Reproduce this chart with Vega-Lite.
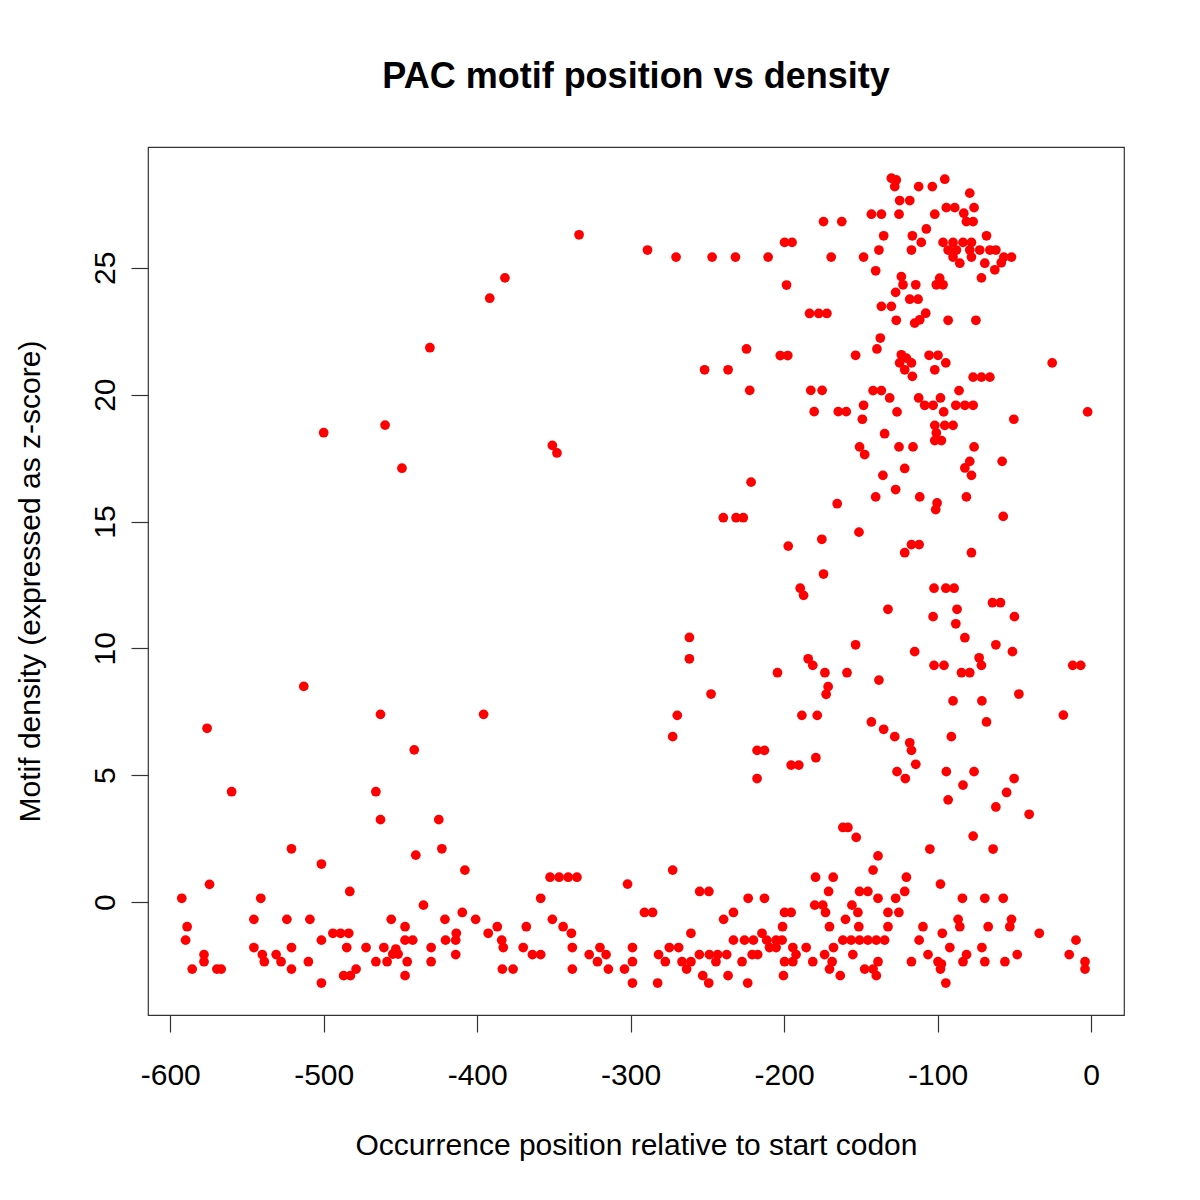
{
"$schema": "https://vega.github.io/schema/vega-lite/v6.json",
"width": 976, "height": 868,
"autosize": "none",
"padding": {"left": 148, "top": 147, "right": 76, "bottom": 185},
"background": "white",
"config": {"view": {"stroke": "#333", "strokeWidth": 1.2}, "font": "Liberation Sans"},
"title": {"text": "PAC motif position vs density", "font": "Liberation Sans", "fontSize": 36, "fontWeight": "bold", "color": "black", "anchor": "middle", "baseline": "alphabetic", "offset": 23},
"data": {"values": [
{"p":-333.6,"z":26.3},{"p":-381.9,"z":24.6},{"p":-391.8,"z":23.8},{"p":-430.8,"z":21.85},{"p":-500,"z":18.5},{"p":-460,"z":18.8},{"p":-449,"z":17.1},{"p":-351,"z":18.0},{"p":-348,"z":17.7},{"p":-513,"z":8.5},{"p":-576,"z":6.85},{"p":-463,"z":7.4},{"p":-395.8,"z":7.4},{"p":-441,"z":6.0},{"p":-560,"z":4.35},{"p":-466,"z":4.35},{"p":-463,"z":3.25},{"p":-425,"z":3.25},{"p":-521,"z":2.1},{"p":-423,"z":2.1},{"p":-440,"z":1.85},{"p":-501.5,"z":1.5},
{"p":-574.4,"z":0.7},{"p":-592.5,"z":0.15},{"p":-541,"z":0.15},{"p":-483,"z":0.42},{"p":-545.5,"z":-0.68},{"p":-524,"z":-0.68},{"p":-509,"z":-0.68},{"p":-456,"z":-0.68},{"p":-589,"z":-0.97},{"p":-590,"z":-1.5},{"p":-494,"z":-1.23},{"p":-489,"z":-1.23},{"p":-483.7,"z":-1.23},{"p":-501.5,"z":-1.5},{"p":-545.5,"z":-1.79},{"p":-521,"z":-1.79},{"p":-485,"z":-1.79},{"p":-472.4,"z":-1.79},{"p":-460.8,"z":-1.79},{"p":-453,"z":-1.85},{"p":-578,"z":-2.07},{"p":-540,"z":-2.07},{"p":-531,"z":-2.07},{"p":-578,"z":-2.35},{"p":-538.7,"z":-2.35},{"p":-527.8,"z":-2.35},{"p":-510,"z":-2.35},{"p":-466,"z":-2.35},{"p":-458.7,"z":-2.35},{"p":-585.7,"z":-2.64},{"p":-569.6,"z":-2.64},{"p":-566.8,"z":-2.64},{"p":-521,"z":-2.64},{"p":-478.9,"z":-2.64},{"p":-482.6,"z":-2.9},{"p":-487,"z":-2.9},{"p":-501.5,"z":-3.19},
{"p":-408,"z":1.26},{"p":-435,"z":-0.12},{"p":-352.5,"z":0.98},{"p":-346.6,"z":0.98},{"p":-340.7,"z":0.98},{"p":-335,"z":0.98},{"p":-302,"z":0.71},{"p":-358.6,"z":0.15},{"p":-421,"z":-0.68},{"p":-409.7,"z":-0.41},{"p":-401,"z":-0.68},{"p":-351,"z":-0.68},{"p":-447,"z":-0.97},{"p":-386.9,"z":-0.97},{"p":-368,"z":-0.97},{"p":-344,"z":-0.97},{"p":-392.8,"z":-1.23},{"p":-338.6,"z":-1.23},{"p":-413.6,"z":-1.23},{"p":-447,"z":-1.5},{"p":-442,"z":-1.5},{"p":-420.6,"z":-1.5},{"p":-414,"z":-1.5},{"p":-384,"z":-1.5},{"p":-455,"z":-2.05},{"p":-451.5,"z":-2.05},{"p":-430,"z":-1.79},{"p":-383,"z":-1.79},{"p":-370,"z":-1.79},{"p":-338,"z":-1.79},{"p":-298.8,"z":-1.79},{"p":-320,"z":-1.79},{"p":-414,"z":-2.07},{"p":-364,"z":-2.07},{"p":-358.6,"z":-2.07},{"p":-327,"z":-2.07},{"p":-316,"z":-2.07},{"p":-445.6,"z":-2.35},{"p":-430,"z":-2.35},{"p":-321.6,"z":-2.35},{"p":-298.8,"z":-2.35},{"p":-383.6,"z":-2.64},{"p":-376.6,"z":-2.64},{"p":-338,"z":-2.64},{"p":-314.5,"z":-2.64},{"p":-304,"z":-2.64},{"p":-447,"z":-2.9},{"p":-298.8,"z":-3.19},
{"p":-272.6,"z":1.26},{"p":-255,"z":0.42},{"p":-249,"z":0.42},{"p":-223.4,"z":0.15},{"p":-212.8,"z":0.15},{"p":-179.5,"z":0.98},{"p":-168,"z":0.98},{"p":-171,"z":0.42},{"p":-142,"z":1.26},{"p":-138.8,"z":1.82},{"p":-153,"z":2.55},{"p":-150.8,"z":0.42},{"p":-145.4,"z":0.42},{"p":-138.8,"z":0.15},{"p":-291,"z":-0.41},{"p":-285.7,"z":-0.41},{"p":-233,"z":-0.41},{"p":-239.4,"z":-0.68},{"p":-199.7,"z":-0.41},{"p":-195.4,"z":-0.41},{"p":-180,"z":-0.12},{"p":-174.8,"z":-0.12},{"p":-173,"z":-0.41},{"p":-155.8,"z":-0.12},{"p":-151.9,"z":-0.41},{"p":-160,"z":-0.68},{"p":-201,"z":-0.97},{"p":-170.4,"z":-0.97},{"p":-151.3,"z":-0.97},{"p":-260.7,"z":-1.23},{"p":-214.4,"z":-1.23},{"p":-233,"z":-1.5},{"p":-225.8,"z":-1.5},{"p":-220,"z":-1.5},{"p":-211.3,"z":-1.5},{"p":-205.2,"z":-1.5},{"p":-201.3,"z":-1.5},{"p":-161.7,"z":-1.5},{"p":-156.3,"z":-1.5},{"p":-150.8,"z":-1.5},{"p":-145.4,"z":-1.5},{"p":-139.9,"z":-1.5},{"p":-274.8,"z":-1.79},{"p":-268.7,"z":-1.79},{"p":-209.5,"z":-1.79},{"p":-205.2,"z":-1.79},{"p":-194.3,"z":-1.79},{"p":-185.6,"z":-1.79},{"p":-167.8,"z":-1.79},{"p":-281.8,"z":-2.07},{"p":-255.2,"z":-2.07},{"p":-248.7,"z":-2.07},{"p":-243.3,"z":-2.07},{"p":-237.4,"z":-2.07},{"p":-220.8,"z":-2.07},{"p":-217.2,"z":-2.07},{"p":-192.2,"z":-2.07},{"p":-173.6,"z":-2.07},{"p":-155.2,"z":-2.07},{"p":-277.4,"z":-2.35},{"p":-266.5,"z":-2.35},{"p":-260.7,"z":-2.35},{"p":-244.4,"z":-2.35},{"p":-227.4,"z":-2.35},{"p":-199.7,"z":-2.35},{"p":-194.3,"z":-2.35},{"p":-181.3,"z":-2.35},{"p":-168.7,"z":-2.35},{"p":-138.8,"z":-2.35},{"p":-263.5,"z":-2.64},{"p":-170.4,"z":-2.64},{"p":-147.5,"z":-2.64},{"p":-142,"z":-2.64},{"p":-253,"z":-2.9},{"p":-236.5,"z":-2.9},{"p":-200.4,"z":-2.9},{"p":-163.4,"z":-2.9},{"p":-139.9,"z":-2.9},{"p":-282.4,"z":-3.19},{"p":-249.1,"z":-3.19},{"p":-223.7,"z":-3.19},
{"p":-105,"z":2.09},{"p":-63.8,"z":2.09},{"p":-76.8,"z":2.6},{"p":-120.3,"z":0.98},{"p":-121.4,"z":0.42},{"p":-98.1,"z":0.71},{"p":-127.3,"z":0.15},{"p":-83.8,"z":0.15},{"p":-69.2,"z":0.15},{"p":-57.2,"z":0.15},{"p":-132.3,"z":-0.41},{"p":-125.2,"z":-0.41},{"p":-86.6,"z":-0.68},{"p":-51.8,"z":-0.68},{"p":-132.3,"z":-0.97},{"p":-109.5,"z":-0.97},{"p":-85.5,"z":-0.97},{"p":-67,"z":-0.97},{"p":-52.9,"z":-0.97},{"p":-134.5,"z":-1.5},{"p":-96.9,"z":-1.23},{"p":-33.7,"z":-1.23},{"p":-112,"z":-1.5},{"p":-9.8,"z":-1.5},{"p":-92,"z":-1.79},{"p":-71.1,"z":-1.79},{"p":-106.2,"z":-2.07},{"p":-81.1,"z":-2.07},{"p":-48.1,"z":-2.07},{"p":-14.2,"z":-2.07},{"p":-117,"z":-2.35},{"p":-99.7,"z":-2.35},{"p":-97.5,"z":-2.44},{"p":-83.4,"z":-2.35},{"p":-69.2,"z":-2.35},{"p":-56.1,"z":-2.35},{"p":-3.9,"z":-2.35},{"p":-3.9,"z":-2.64},{"p":-98.1,"z":-2.64},{"p":-94.6,"z":-3.19},
{"p":-165.4,"z":15.7},{"p":-239.6,"z":15.15},{"p":-231.3,"z":15.15},{"p":-226.6,"z":15.15},{"p":-175.4,"z":14.3},{"p":-197.3,"z":14.03},{"p":-174.3,"z":12.93},{"p":-189.5,"z":12.37},{"p":-187.3,"z":12.09},{"p":-261.7,"z":10.43},{"p":-261.7,"z":9.59},{"p":-184.3,"z":9.59},{"p":-181.3,"z":9.33},{"p":-204.3,"z":9.04},{"p":-173.4,"z":9.04},{"p":-159,"z":9.04},{"p":-171.3,"z":8.49},{"p":-172.6,"z":8.19},{"p":-247.6,"z":8.2},{"p":-269.6,"z":7.36},{"p":-188.4,"z":7.36},{"p":-178.4,"z":7.36},{"p":-272.6,"z":6.52},{"p":-217.6,"z":5.98},{"p":-212.8,"z":5.98},{"p":-179.3,"z":5.69},{"p":-195.4,"z":5.4},{"p":-190.4,"z":5.4},{"p":-217.6,"z":4.87},{"p":-161.7,"z":2.94},{"p":-158.4,"z":2.94},
{"p":-174.3,"z":26.82},{"p":-162.4,"z":26.82},{"p":-289,"z":25.7},{"p":-270.4,"z":25.42},{"p":-246.9,"z":25.42},{"p":-231.7,"z":25.42},{"p":-210.4,"z":25.42},{"p":-169.3,"z":25.42},{"p":-199.7,"z":26.0},{"p":-194.8,"z":26.0},{"p":-198.4,"z":24.32},{"p":-183.4,"z":23.2},{"p":-177.4,"z":23.2},{"p":-172.1,"z":23.2},{"p":-224.5,"z":21.8},{"p":-202.5,"z":21.54},{"p":-197.6,"z":21.54},{"p":-251.8,"z":20.98},{"p":-236.5,"z":20.98},{"p":-222.4,"z":20.17},{"p":-182.6,"z":20.17},{"p":-175.2,"z":20.17},{"p":-180.4,"z":19.33},{"p":-164.7,"z":19.33},{"p":-159.5,"z":19.33},{"p":-221.5,"z":16.55},
{"p":-130.1,"z":28.53},{"p":-126.9,"z":28.46},{"p":-127.9,"z":28.2},{"p":-112.3,"z":28.2},{"p":-103.4,"z":28.2},{"p":-95.3,"z":28.49},{"p":-79,"z":27.94},{"p":-124.7,"z":27.65},{"p":-118.1,"z":27.65},{"p":-143.1,"z":27.11},{"p":-136.6,"z":27.11},{"p":-125.1,"z":27.11},{"p":-101.8,"z":27.11},{"p":-94.3,"z":27.37},{"p":-88.8,"z":27.37},{"p":-82.9,"z":27.15},{"p":-76.2,"z":27.37},{"p":-81.2,"z":26.82},{"p":-76.8,"z":26.82},{"p":-107.3,"z":26.53},{"p":-135.1,"z":26.26},{"p":-116.4,"z":26.26},{"p":-110.6,"z":26.0},{"p":-68.1,"z":26.26},
{"p":-96.4,"z":26.0},{"p":-89.9,"z":26.0},{"p":-83.4,"z":26.0},{"p":-77.9,"z":26.0},{"p":-93.1,"z":25.7},{"p":-87.7,"z":25.7},{"p":-79,"z":25.7},{"p":-72.5,"z":25.7},{"p":-65.9,"z":25.7},{"p":-62,"z":25.7},{"p":-89.9,"z":25.42},{"p":-85.5,"z":25.18},{"p":-77.9,"z":25.42},{"p":-69.2,"z":25.18},{"p":-56.8,"z":25.42},{"p":-51.8,"z":25.42},{"p":-62.7,"z":24.92},{"p":-71.4,"z":24.6},{"p":-58.5,"z":25.2},
{"p":-148.2,"z":25.42},{"p":-138.2,"z":25.7},{"p":-117,"z":25.7},{"p":-140.3,"z":24.88},{"p":-123.6,"z":24.65},{"p":-122.5,"z":24.33},{"p":-114.2,"z":24.33},{"p":-98.6,"z":24.59},{"p":-96.4,"z":24.33},{"p":-100.8,"z":24.33},{"p":-127.3,"z":24.03},{"p":-136.6,"z":23.48},{"p":-130.1,"z":23.48},{"p":-118.1,"z":23.76},{"p":-112.7,"z":23.76},{"p":-126.9,"z":22.93},{"p":-114.9,"z":22.82},{"p":-111.6,"z":22.95},{"p":-107.7,"z":23.21},{"p":-93.1,"z":22.93},{"p":-75,"z":22.93},{"p":-137.3,"z":22.23},
{"p":-139.5,"z":21.8},{"p":-153.4,"z":21.55},{"p":-123.6,"z":21.57},{"p":-120.3,"z":21.44},{"p":-124.7,"z":21.25},{"p":-117,"z":21.25},{"p":-121.4,"z":20.98},{"p":-116.4,"z":20.72},{"p":-105.5,"z":21.55},{"p":-99.7,"z":21.55},{"p":-94.6,"z":21.25},{"p":-101.8,"z":20.98},{"p":-76.8,"z":20.69},{"p":-71.4,"z":20.69},{"p":-65.9,"z":20.69},{"p":-25.3,"z":21.25},{"p":-142,"z":20.16},{"p":-136.6,"z":20.16},{"p":-131.2,"z":19.87},{"p":-112.3,"z":19.87},{"p":-98.1,"z":19.87},{"p":-86,"z":20.16},{"p":-108.4,"z":19.58},{"p":-102.9,"z":19.58},{"p":-88.1,"z":19.58},{"p":-82.2,"z":19.58},{"p":-76.8,"z":19.58},{"p":-148.2,"z":19.58},{"p":-149,"z":19.03},{"p":-126.4,"z":19.32},{"p":-96,"z":19.32},{"p":-50.3,"z":19.03},{"p":-2.2,"z":19.32},{"p":-101.8,"z":18.79},{"p":-95.3,"z":18.79},{"p":-89.9,"z":18.79},{"p":-100.8,"z":18.49},{"p":-101.8,"z":18.19},{"p":-97.5,"z":18.19},{"p":-134.5,"z":18.46},{"p":-150.8,"z":17.94},{"p":-147.5,"z":17.64},{"p":-125.1,"z":17.94},{"p":-116,"z":17.94},{"p":-76.2,"z":17.94},{"p":-79,"z":17.37},{"p":-82.2,"z":17.11},{"p":-77.9,"z":16.82},{"p":-57.9,"z":17.37},{"p":-121.4,"z":17.09},{"p":-135.6,"z":16.82},{"p":-127.3,"z":16.26},{"p":-140.3,"z":15.97},{"p":-111.6,"z":15.97},{"p":-81.2,"z":15.97},{"p":-100.3,"z":15.73},{"p":-101.2,"z":15.47},{"p":-57.2,"z":15.2},
{"p":-151.2,"z":14.58},{"p":-117,"z":14.09},{"p":-112,"z":14.09},{"p":-121.4,"z":13.77},{"p":-77.9,"z":13.77},{"p":-102.3,"z":12.37},{"p":-94.6,"z":12.37},{"p":-89.2,"z":12.37},{"p":-132.3,"z":11.54},{"p":-102.9,"z":11.25},{"p":-87.3,"z":11.54},{"p":-64.2,"z":11.8},{"p":-59,"z":11.8},{"p":-49.9,"z":11.25},{"p":-88.1,"z":10.97},{"p":-82.2,"z":10.42},{"p":-153.4,"z":10.14},{"p":-114.9,"z":9.87},{"p":-62,"z":10.14},{"p":-51.2,"z":9.87},{"p":-72.9,"z":9.63},{"p":-71.4,"z":9.33},{"p":-102.3,"z":9.33},{"p":-95.8,"z":9.33},{"p":-84.4,"z":9.04},{"p":-79,"z":9.04},{"p":-11.9,"z":9.33},{"p":-6.7,"z":9.33},{"p":-138.2,"z":8.75},
{"p":-89.9,"z":7.93},{"p":-71.1,"z":7.93},{"p":-47,"z":8.2},{"p":-18,"z":7.37},{"p":-68.1,"z":7.1},{"p":-143.1,"z":7.1},{"p":-135.1,"z":6.81},{"p":-127.9,"z":6.52},{"p":-91,"z":6.52},{"p":-118.1,"z":6.28},{"p":-117,"z":5.98},{"p":-114.2,"z":5.43},{"p":-126.4,"z":5.14},{"p":-121,"z":4.87},{"p":-94.3,"z":5.14},{"p":-76.2,"z":5.14},{"p":-83.4,"z":4.61},{"p":-50.1,"z":4.87},{"p":-55,"z":4.32},{"p":-93.1,"z":4.03},{"p":-62,"z":3.75},{"p":-40.3,"z":3.46}
]},
"mark": {"type": "point", "filled": true, "shape": "circle", "size": 95, "color": "#FF0000", "opacity": 1, "clip": true},
"encoding": {
"x": {"field": "p", "type": "quantitative",
 "scale": {"domain": [-614.5, 21.5], "nice": false, "zero": false},
 "axis": {"title": "Occurrence position relative to start codon", "values": [-600,-500,-400,-300,-200,-100,0], "labelExpr": "datum.value < 0 ? '-' + abs(datum.value) : '' + datum.value", "grid": false, "domain": false, "tickColor": "#333", "tickWidth": 1.2, "tickSize": 17, "labelPadding": 52, "labelBaseline": "alphabetic", "labelFontSize": 30, "labelColor": "#000", "labelFont": "Liberation Sans", "labelFlush": false, "labelOverlap": false, "titleFontSize": 30, "titleFontWeight": "normal", "titleColor": "#000", "titleFont": "Liberation Sans", "titleBaseline": "alphabetic", "titleY": 139, "titleX": 488}},
"y": {"field": "z", "type": "quantitative",
 "scale": {"domain": [-4.45, 29.76], "nice": false, "zero": false},
 "axis": {"title": "Motif density (expressed as z-score)", "values": [0,5,10,15,20,25], "grid": false, "domain": false, "tickColor": "#333", "tickWidth": 1.2, "tickSize": 17, "labelPadding": 17, "labelAngle": -90, "labelAlign": "center", "labelBaseline": "alphabetic", "labelFontSize": 30, "labelColor": "#000", "labelFont": "Liberation Sans", "labelFlush": false, "labelOverlap": false, "titleFontSize": 30, "titleFontWeight": "normal", "titleColor": "#000", "titleFont": "Liberation Sans", "titleAngle": -90, "titleAlign": "center", "titleBaseline": "alphabetic", "titleX": -109, "titleY": 434}}
}
}
